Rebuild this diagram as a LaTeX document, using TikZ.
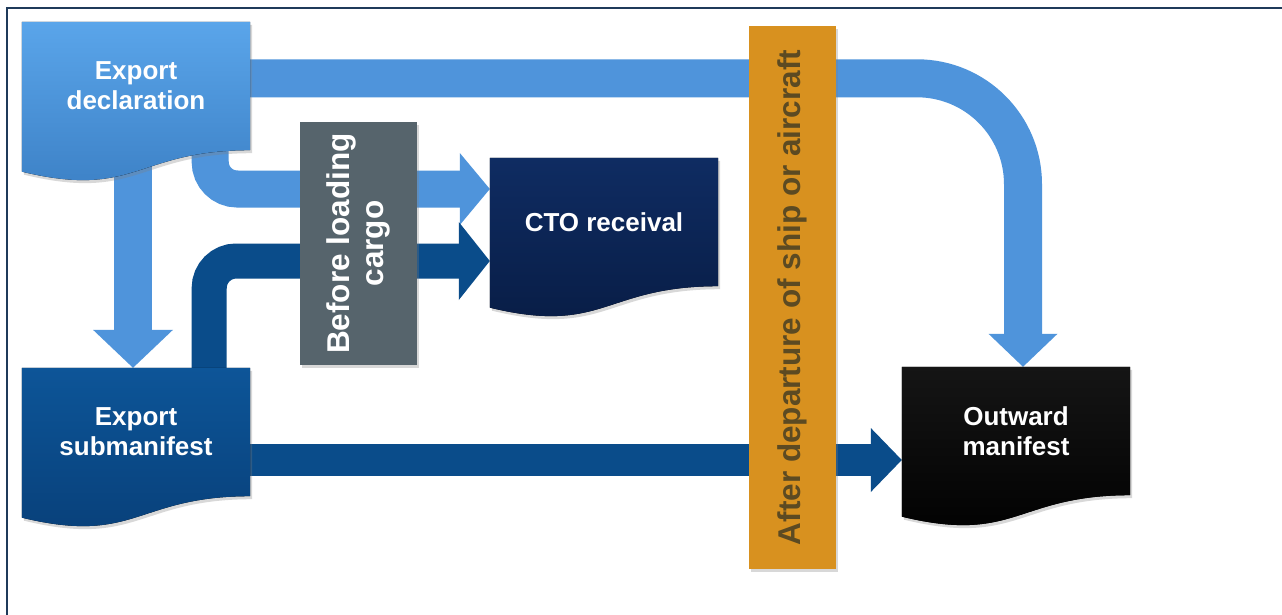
\documentclass[tikz,border=0pt]{standalone}
\usepackage{fontspec}
\setmainfont{Liberation Sans}
\usetikzlibrary{calc,shadows}
\pgfdeclarelayer{bg}
\pgfdeclarelayer{bands}
\pgfdeclarelayer{docs}
\pgfsetlayers{bg,bands,docs,main}
\definecolor{lblue}{HTML}{4F94DB}
\definecolor{dblue}{HTML}{0A4C8A}
\definecolor{framec}{HTML}{1F3A5A}
\definecolor{declA}{HTML}{5AA5EA}
\definecolor{declB}{HTML}{3B7FC4}
\definecolor{subA}{HTML}{0D5598}
\definecolor{subB}{HTML}{083F78}
\definecolor{ctoA}{HTML}{0F2C62}
\definecolor{ctoB}{HTML}{081C44}
\definecolor{outA}{HTML}{151515}
\definecolor{outB}{HTML}{000000}
\definecolor{greyc}{HTML}{56646C}
\definecolor{orangec}{HTML}{D8911F}
\definecolor{otext}{HTML}{5C4A22}
\newcommand\labfont{\fontsize{26}{30}\selectfont\bfseries}
\newcommand\barfont{\fontsize{31.5}{34.5}\selectfont\bfseries}
\newcommand\docfill[3]{%
  \begin{pgfonlayer}{docs}
    \fill[top color=#2, bottom color=#3,
      drop shadow={opacity=0.3, shadow xshift=2pt, shadow yshift=-3pt}]
      (#1.north west) -- (#1.north east) -- (#1.south east)
      .. controls (#1.south) and ($(#1.north)!1.383!(#1.south)$) ..
      ($(#1.north west)!1.167!(#1.south west)$) -- cycle;
  \end{pgfonlayer}}
\begin{document}
\begin{tikzpicture}[x=1pt,y=-1pt,
  doc/.style={minimum width=228pt, minimum height=128pt, inner sep=0pt,
    align=center, text=white, font=\labfont},
  lband/.style={draw=lblue, line width=38pt},
  dband/.style={draw=dblue, line width=35pt},
  gbox/.style={rotate=90, minimum width=243pt, minimum height=117pt,
    inner sep=0pt, align=center, fill=greyc, text=white, font=\barfont,
    drop shadow={opacity=0.3, shadow xshift=2pt, shadow yshift=-3pt}},
  obar/.style={rotate=90, minimum width=543pt, minimum height=87pt,
    inner sep=0pt, align=center, fill=orangec, text=otext, font=\barfont,
    drop shadow={opacity=0.3, shadow xshift=2pt, shadow yshift=-3pt}}]
\useasboundingbox (0,0) rectangle (1282,615);
\begin{pgfonlayer}{bg}
  \fill[white] (0,0) rectangle (1282,615);
  \draw[framec, line width=1.5pt] (7,615) -- (7,8) -- (1282,8);
\end{pgfonlayer}

% documents (text nodes; shapes on layer docs)
\node[doc] (decl) at (136,86) {Export\\declaration};
\node[doc] (sub) at (136,432) {Export\\submanifest};
\node[doc] (cto) at (604,222) {CTO receival};
\node[doc] (outw) at (1016,431) {Outward\\manifest};
\docfill{decl}{declA}{declB}
\docfill{sub}{subA}{subB}
\docfill{cto}{ctoA}{ctoB}
\docfill{outw}{outA}{outB}

% connectors
\begin{pgfonlayer}{bands}
  % declaration -> outward manifest
  \draw[lband, rounded corners=106pt]
    ($(decl.north east)+(-20,56.5)$) -| ($(outw.north)+(7,-33)$);
  \fill[lblue] ($(outw.north)+(7,0)$) -- ++(-34.5,-33) -- ++(69,0) -- cycle;
  % declaration -> submanifest
  \draw[lband] ($(decl.south)+(-3,0)$) -- ($(sub.north)+(-3,-37)$);
  \fill[lblue] ($(sub.north)+(-3,0)$) -- ++(-40,-38) -- ++(80,0) -- cycle;
  % declaration -> CTO receival
  \draw[lband, line width=37pt, rounded corners=27pt]
    ($(decl.south east)+(-40,-5)$) |- ($(cto.west)+(-30,-33)$);
  \fill[lblue] ($(cto.west)+(0,-33)$) -- ++(-30,-36) -- ++(0,72) -- cycle;
  % submanifest -> CTO receival
  \draw[dband, rounded corners=27pt]
    ($(sub.north east)+(-41,10)$) |- ($(cto.west)+(-30,39)$);
  \fill[dblue] ($(cto.west)+(0,39)$) -- ++(-31,-39) -- ++(0,78) -- cycle;
  % submanifest -> outward manifest
  \draw[dband, line width=32pt] ($(sub.east)+(-10,28)$) -- ($(outw.west)+(-31,29)$);
  \fill[dblue] ($(outw.west)+(0,29)$) -- ++(-31,-32) -- ++(0,64) -- cycle;
\end{pgfonlayer}

% phase bars
\node[gbox] (load) at (358.5,243.5) {Before loading\\cargo};
\node[obar] (dep) at (792.5,297.5) {After departure of ship or aircraft};
\end{tikzpicture}
\end{document}
